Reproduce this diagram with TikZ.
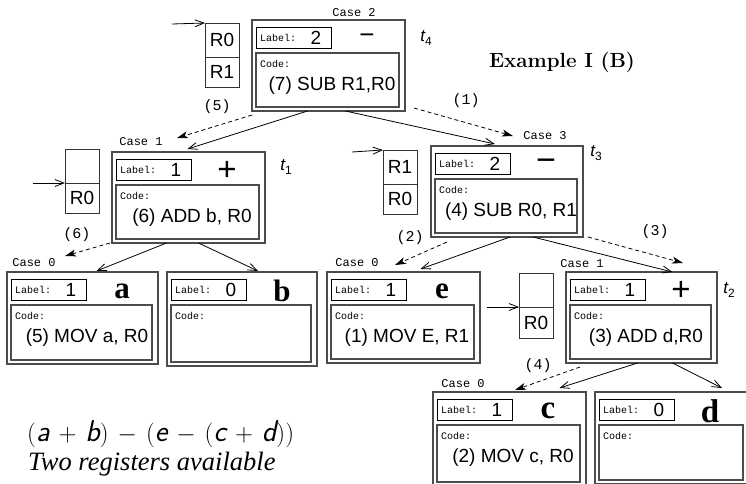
\documentclass[tikz,border=0pt]{standalone}
\usepackage{fontspec}
\newfontfamily\hv{Liberation Sans}
\newfontfamily\cour{Liberation Mono}
\newfontfamily\tms{Liberation Serif}
\usetikzlibrary{arrows.meta,fit}

\tikzset{
  outerbox/.style={draw=black!70, line width=1.3pt, inner sep=0pt, outer sep=0pt},
  labbox/.style={draw=black, line width=0.9pt, inner sep=0pt, outer sep=0pt},
  codebox/.style={draw=black!70, line width=1.2pt, inner sep=0pt, outer sep=0pt},
  regcell/.style={draw=black!80, line width=0.9pt, inner sep=0pt, outer sep=0pt},
  labtxt/.style={font=\cour\fontsize{10}{10}\selectfont, inner sep=0pt},
  numtxt/.style={font=\hv\fontsize{19}{19}\selectfont, inner sep=0pt},
  optxt/.style={inner sep=0pt},
  codetxt/.style={font=\hv\fontsize{19}{19}\selectfont, inner sep=0pt},
  regtxt/.style={font=\hv\fontsize{19}{19}\selectfont, inner sep=0pt},
  casetxt/.style={font=\cour\fontsize{12}{12}\selectfont, inner sep=0pt},
  stepnum/.style={font=\cour\fontsize{15}{15}\selectfont, inner sep=0pt},
  tlabel/.style={inner sep=0pt},
  solidarr/.style={-{Straight Barb[length=9pt,width=7pt]}, line width=0.8pt},
  dasharr/.style={-{Stealth[length=11pt,width=7pt,inset=3pt]}, line width=0.8pt, dash pattern=on 4pt off 3pt},
  regarr/.style={-{Straight Barb[length=9pt,width=7pt]}, line width=0.8pt},
}

\newcommand\opsign[2]{{\hv\fontsize{#1}{#1}\selectfont #2}}
\newcommand\opletter[2]{{\tms\bfseries\fontsize{#1}{#1}\selectfont #2}}
\newcommand\tlab[1]{{\hv\itshape\fontsize{17}{17}\selectfont t}{\hv\fontsize{12}{12}\selectfont\raisebox{-4pt}{#1}}}
\newcommand\sv[1]{\textsf{\itshape #1}}

% name, x0, y0, x1, y1, number, op, code
\newcommand\tbox[8]{%
  \node[outerbox, fit={(#2,#3) (#4,#5)}] (#1) {};
  \node[labbox, fit={({#2+4},{#3+7}) ({#2+79},{#3+28})}] (#1-lab) {};
  \node[codebox, fit={({#2+4},{#3+33}) ({#4-6},{#5-4})}] (#1-code) {};
  \node[labtxt, anchor=west] (#1-lt) at ({#2+8},{#3+18}) {Label:};
  \node[numtxt] (#1-num) at ({#2+64},{#3+18}) {#6};
  \node[optxt] (#1-op) at ({#2+115},{#3+19}) {#7};
  \node[labtxt, anchor=west] (#1-ct) at ({#2+8},{#3+44}) {Code:};
  \node[codetxt] (#1-cd) at ({#2+80},{#3+66}) {#8};
}

% name, x0, y0, x1, ymid, y1, top, bottom
\newcommand\regbox[8]{%
  \node[regcell, fit={(#2,#3) (#4,#5)}] (#1-top) {};
  \node[regcell, fit={(#2,#5) (#4,#6)}] (#1-bot) {};
  \node[regtxt] (#1-t) at (#1-top.center) {#7};
  \node[regtxt] (#1-b) at (#1-bot.center) {#8};
}

\begin{document}
\begin{tikzpicture}[x=1pt,y=-1pt]
\useasboundingbox[fill=white] (0,0) rectangle (746,483);
\clip (0,0) rectangle (746,483);

% tree boxes
\tbox{n4}{252}{20}{405}{111}{2}{\opsign{26}{−}}{(7) SUB R1,R0}
\tbox{n1}{112}{152}{265}{243}{1}{\opsign{33}{+}}{(6) ADD b, R0}
\tbox{n3}{431}{146}{583}{237}{2}{\opsign{34}{−}}{(4) SUB R0, R1}
\tbox{na}{7}{272}{158}{364}{1}{\opletter{31}{a}}{(5) MOV a, R0}
\tbox{nb}{167}{272}{317}{366}{0}{\opletter{31}{b}}{}
\tbox{ne}{327}{272}{480}{363}{1}{\opletter{31}{e}}{(1) MOV E, R1}
\tbox{n2}{566}{272}{717}{363}{1}{\opsign{33}{+}}{(3) ADD d,R0}
\tbox{nc}{433}{392}{586}{486}{1}{\opletter{33}{c}}{(2) MOV c, R0}
\tbox{nd}{595}{392}{749}{484}{0}{\opletter{33}{d}}{}

% case labels
\node[casetxt] (c4) at (354,13) {Case 2};
\node[casetxt] (c1) at (141,142) {Case 1};
\node[casetxt] (c3) at (545,136) {Case 3};
\node[casetxt] (ca) at (34,263) {Case 0};
\node[casetxt] (ce) at (357,263) {Case 0};
\node[casetxt] (c2) at (582,264) {Case 1};
\node[casetxt] (cc) at (463,384) {Case 0};

% t labels
\node[tlabel] (t4) at (426,38) {\tlab{4}};
\node[tlabel] (t1) at (286,167) {\tlab{1}};
\node[tlabel] (t3) at (596,153) {\tlab{3}};
\node[tlabel] (t2) at (729,290) {\tlab{2}};

% register boxes
\regbox{r4}{205}{23}{239}{57}{87}{R0}{R1}
\regbox{r1}{65}{149}{99}{183}{213}{}{R0}
\regbox{r3}{383}{150}{417}{184}{214}{R1}{R0}
\regbox{r2}{519}{273}{553}{307}{338}{}{R0}

\coordinate (r4in) at (172,24);
\coordinate (r1in) at (33,183);
\coordinate (r3in) at (352,152);
\coordinate (r2in) at (487,307);
\draw[regarr] (r4in) -- (r4-top.north west);
\draw[regarr] (r1in) -- (r1-top.south west);
\draw[regarr] (r3in) -- (r3-top.north west);
\draw[regarr] (r2in) -- (r2-top.south west);

% solid tree edges
\draw[solidarr] ([xshift=-21pt]n4.south) -- ([xshift=-1pt,yshift=3pt]n1.north);
\draw[solidarr] ([xshift=17pt]n4.south) -- ([xshift=-12pt,yshift=2pt]n3.north);
\draw[solidarr] ([xshift=-22pt]n1.south) -- ([xshift=14pt,yshift=1pt]na.north);
\draw[solidarr] ([xshift=10pt]n1.south) -- ([xshift=16pt,yshift=1pt]nb.north);
\draw[solidarr] ([xshift=3pt]n3.south) -- ([xshift=17pt,yshift=3pt]ne.north);
\draw[solidarr] ([xshift=26pt]n3.south) -- ([xshift=31pt]n2.north);
\draw[solidarr] ([xshift=-4pt]n2.south) -- ([xshift=50pt,yshift=4pt]nc.north);
\draw[solidarr] ([xshift=31pt]n2.south) -- ([xshift=50pt,yshift=4pt]nd.north);

% dashed evaluation-order edges
\coordinate (d5e) at (177,138);
\coordinate (d1e) at (513,136);
\coordinate (d6e) at (65,256);
\coordinate (d2e) at (395,265);
\coordinate (d3e) at (683,263);
\coordinate (d4e) at (515,390);
\draw[dasharr] ([yshift=-4pt]n4.south west) -- (d5e);
\draw[dasharr] ([xshift=9pt,yshift=3pt]n4.south east) -- (d1e);
\draw[dasharr] ([xshift=-2pt]n1.south west) -- (d6e);
\draw[dasharr] ([xshift=16pt,yshift=-5pt]n3.south west) -- (d2e);
\draw[dasharr] ([xshift=5pt]n3.south east) -- (d3e);
\draw[dasharr] ([xshift=14pt,yshift=-4pt]n2.south west) -- (d4e);

\node[stepnum] (s5) at (217,107) {(5)};
\node[stepnum] (s1) at (466,101) {(1)};
\node[stepnum] (s6) at (77,235) {(6)};
\node[stepnum] (s2) at (410,238) {(2)};
\node[stepnum] (s3) at (655,232) {(3)};
\node[stepnum] (s4) at (538,366) {(4)};

% titles and notes
\node[font=\bfseries\fontsize{20.5}{22}\selectfont, inner sep=0pt] (title) at (562,62) {Example I (B)};
\node[font=\fontsize{30}{32}\selectfont, inner sep=0pt, anchor=west] (expr) at (27,434)
  {$\medmuskip=6.5mu(\sv{a}+\sv{b})-(\sv{e}-(\sv{c}+\sv{d}))$};
\node[font=\tms\itshape\fontsize{26.5}{28}\selectfont, inner sep=0pt, anchor=west] (note) at (28,464) {Two registers available};
\end{tikzpicture}
\end{document}
